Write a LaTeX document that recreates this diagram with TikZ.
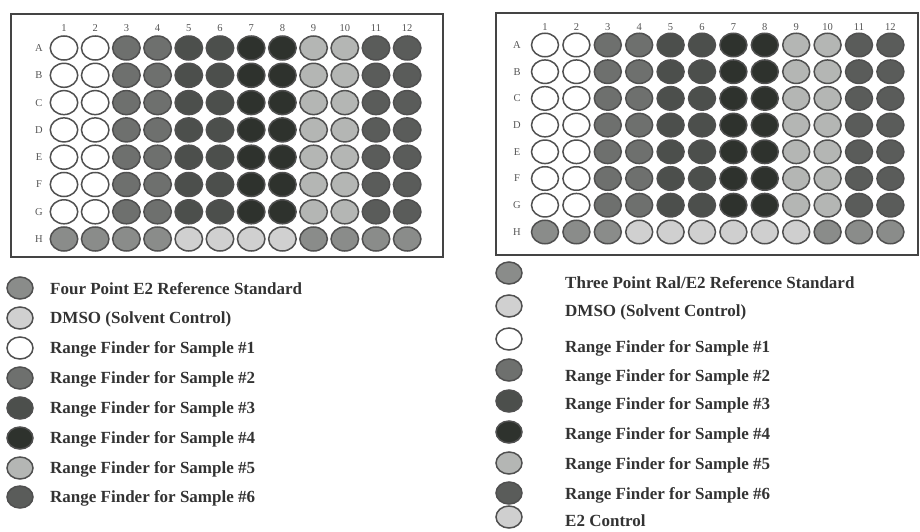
\documentclass[tikz,border=0pt]{standalone}
\usepackage{fontspec}
\setmainfont{Liberation Serif}
\usetikzlibrary{shapes.geometric}
\definecolor{stwo}{HTML}{6E706E}
\definecolor{sthree}{HTML}{4C4F4C}
\definecolor{sfour}{HTML}{2E322D}
\definecolor{sfive}{HTML}{B4B6B4}
\definecolor{ssix}{HTML}{5A5C5A}
\definecolor{refc}{HTML}{8A8C8A}
\definecolor{dmso}{HTML}{D0D0D0}
\definecolor{etwoc}{HTML}{CFCFCF}
\definecolor{wellline}{HTML}{505050}
\definecolor{framec}{HTML}{444444}
\definecolor{labc}{HTML}{555555}
\definecolor{legc}{HTML}{333333}
\begin{document}
\begin{tikzpicture}[x=1pt,y=-1pt,
  well/.style={ellipse, draw=wellline, line width=1.5pt, minimum width=27.5pt, minimum height=24pt, inner sep=0pt},
  rwell/.style={well, minimum width=27pt, minimum height=23.5pt},
  legwell/.style={ellipse, draw=wellline, line width=1.5pt, minimum width=26pt, minimum height=22pt, inner sep=0pt},
  frame/.style={draw=framec, line width=2pt},
  lab/.style={font=\fontsize{10.5}{10.5}\selectfont, text=labc, inner sep=0pt},
  leg/.style={font=\fontsize{17}{18}\selectfont\bfseries, text=legc, anchor=west, inner sep=0pt}]
\useasboundingbox (0,0) rectangle (920,532);
% ---------- left plate ----------
\draw[frame] (11,14) rectangle (443,257);
\foreach \c in {1,...,12} \node[lab] (Ln\c) at ({64+31.2*(\c-1)},28) {\c};
\foreach \r [count=\j] in {A,B,C,D,E,F,G,H} \node[lab] (Lr\r) at (39,{48+27.3*(\j-1)}) {\r};
\foreach \r [count=\j] in {A,B,C,D,E,F,G} {
  \foreach \c/\fc in {1/white,2/white,3/stwo,4/stwo,5/sthree,6/sthree,7/sfour,8/sfour,9/sfive,10/sfive,11/ssix,12/ssix}
    \node[well, fill=\fc] (L\r\c) at ({64+31.2*(\c-1)},{48+27.3*(\j-1)}) {};
}
\foreach \c/\fc in {1/refc,2/refc,3/refc,4/refc,5/dmso,6/dmso,7/dmso,8/dmso,9/refc,10/refc,11/refc,12/refc}
  \node[well, fill=\fc] (LH\c) at ({64+31.2*(\c-1)},239) {};
% ---------- right plate ----------
\draw[frame] (496,13) rectangle (918,255);
\foreach \c in {1,...,12} \node[lab] (Rn\c) at ({545+31.4*(\c-1)},27) {\c};
\foreach \r [count=\j] in {A,B,C,D,E,F,G,H} \node[lab] (Rr\r) at (517,{45+26.7*(\j-1)}) {\r};
\foreach \r [count=\j] in {A,B,C,D,E,F,G} {
  \foreach \c/\fc in {1/white,2/white,3/stwo,4/stwo,5/sthree,6/sthree,7/sfour,8/sfour,9/sfive,10/sfive,11/ssix,12/ssix}
    \node[rwell, fill=\fc] (R\r\c) at ({545+31.4*(\c-1)},{45+26.7*(\j-1)}) {};
}
\foreach \c/\fc in {1/refc,2/refc,3/refc,4/dmso,5/dmso,6/dmso,7/etwoc,8/etwoc,9/etwoc,10/refc,11/refc,12/refc}
  \node[rwell, fill=\fc] (RH\c) at ({545+31.4*(\c-1)},232) {};
% ---------- left legend ----------
\node[legwell, fill=refc]   (la1) at (20,288) {};
\node[legwell, fill=dmso]   (la2) at (20,318) {};
\node[legwell, fill=white]  (la3) at (20,348) {};
\node[legwell, fill=stwo]   (la4) at (20,378) {};
\node[legwell, fill=sthree] (la5) at (20,408) {};
\node[legwell, fill=sfour]  (la6) at (20,438) {};
\node[legwell, fill=sfive]  (la7) at (20,468) {};
\node[legwell, fill=ssix]   (la8) at (20,497) {};
\node[leg] (lt1) at (50,289) {Four Point E2 Reference Standard};
\node[leg] (lt2) at (50,319) {DMSO (Solvent Control)};
\node[leg] (lt3) at (50,349) {Range Finder for Sample \#1};
\node[leg] (lt4) at (50,379) {Range Finder for Sample \#2};
\node[leg] (lt5) at (50,409) {Range Finder for Sample \#3};
\node[leg] (lt6) at (50,439) {Range Finder for Sample \#4};
\node[leg] (lt7) at (50,469) {Range Finder for Sample \#5};
\node[leg] (lt8) at (50,498) {Range Finder for Sample \#6};
% ---------- right legend ----------
\node[legwell, fill=refc]   (ra1) at (509,273) {};
\node[legwell, fill=dmso]   (ra2) at (509,306) {};
\node[legwell, fill=white]  (ra3) at (509,339) {};
\node[legwell, fill=stwo]   (ra4) at (509,370) {};
\node[legwell, fill=sthree] (ra5) at (509,401) {};
\node[legwell, fill=sfour]  (ra6) at (509,432) {};
\node[legwell, fill=sfive]  (ra7) at (509,463) {};
\node[legwell, fill=ssix]   (ra8) at (509,493) {};
\node[legwell, fill=etwoc]  (ra9) at (509,517) {};
\node[leg] (rt1) at (565,283) {Three Point Ral/E2 Reference Standard};
\node[leg] (rt2) at (565,312) {DMSO (Solvent Control)};
\node[leg] (rt3) at (565,348) {Range Finder for Sample \#1};
\node[leg] (rt4) at (565,377) {Range Finder for Sample \#2};
\node[leg] (rt5) at (565,405) {Range Finder for Sample \#3};
\node[leg] (rt6) at (565,435) {Range Finder for Sample \#4};
\node[leg] (rt7) at (565,465) {Range Finder for Sample \#5};
\node[leg] (rt8) at (565,495) {Range Finder for Sample \#6};
\node[leg] (rt9) at (565,521) {E2 Control};
\end{tikzpicture}
\end{document}
